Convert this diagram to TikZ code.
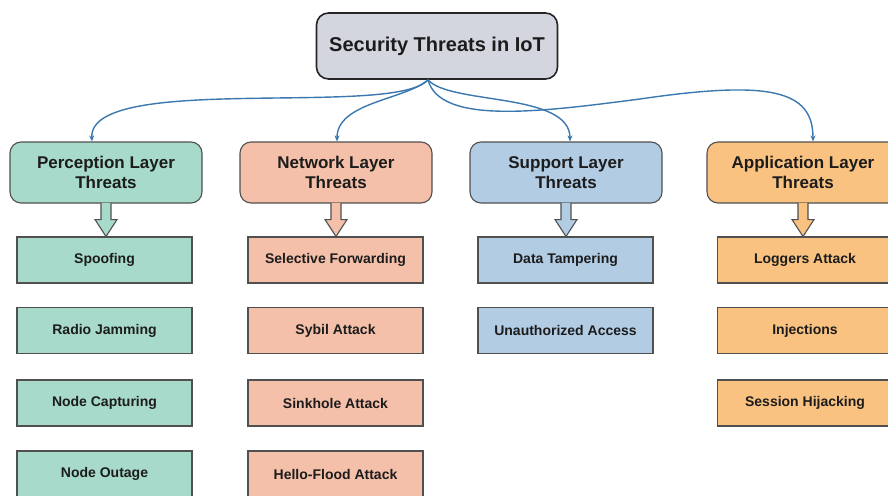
\documentclass[tikz,border=0pt]{standalone}
\usepackage{fontspec}
\setmainfont{Liberation Sans}
\usetikzlibrary{calc,arrows.meta}
\definecolor{topfill}{HTML}{D3D6DF}
\definecolor{percfill}{HTML}{A7DACA}
\definecolor{netfill}{HTML}{F5C0A9}
\definecolor{supfill}{HTML}{B2CCE4}
\definecolor{appfill}{HTML}{F9C280}
\definecolor{linkblue}{HTML}{3A78AF}
\definecolor{edge}{HTML}{505050}
\definecolor{txt}{HTML}{1C1C1C}
\tikzset{
  topbox/.style={draw=black!85, line width=1.6pt, rounded corners=12pt, fill=topfill,
    minimum width=241pt, minimum height=66pt, inner sep=0pt, text=txt,
    font=\bfseries\fontsize{20}{24}\selectfont},
  layerbox/.style={draw=edge, line width=1.1pt, rounded corners=11pt,
    minimum width=192pt, minimum height=61pt, inner sep=0pt, align=center, text=txt,
    font=\bfseries\fontsize{17}{20}\selectfont},
  leafbox/.style={draw=edge, line width=1.1pt, minimum width=175pt, minimum height=46pt,
    inner sep=0pt, text=txt, font=\bfseries\fontsize{14}{17}\selectfont},
  link/.style={draw=linkblue, line width=1.4pt, -{Stealth[length=6pt,width=5pt]}},
  hollow/.style={draw=edge, line width=1.1pt, line join=miter}
}
\newcommand\hollowarr[3]{%
  \filldraw[hollow, fill=#3] ($(#1.south)+(-5,-0.6)$) -- ($(#1.south)+(-5,16)$) -- ($(#1.south)+(-11,16)$)
    -- (#1.south |- #2.north) -- ($(#1.south)+(11,16)$) -- ($(#1.south)+(5,16)$) -- ($(#1.south)+(5,-0.6)$);}
\begin{document}
\begin{tikzpicture}[x=1pt,y=-1pt]
\clip (0,0) rectangle (888,495);
\fill[white] (0,0) rectangle (888,495);

\node[topbox] (top) at (437,46) {Security Threats in IoT};

\node[layerbox, fill=percfill] (perc) at (106,172.5) {Perception Layer\\Threats};
\node[layerbox, fill=netfill]  (net)  at (336,172.5) {Network Layer\\Threats};
\node[layerbox, fill=supfill]  (sup)  at (566,172.5) {Support Layer\\Threats};
\node[layerbox, fill=appfill]  (app)  at (803,172.5) {Application Layer\\Threats};

\node[leafbox, fill=percfill] (p1) at (104.5,260) {Spoofing};
\node[leafbox, fill=percfill] (p2) at (104.5,330.5) {Radio Jamming};
\node[leafbox, fill=percfill] (p3) at (104.5,403) {Node Capturing};
\node[leafbox, fill=percfill] (p4) at (104.5,474) {Node Outage};

\node[leafbox, fill=netfill] (n1) at (335.5,260) {Selective Forwarding};
\node[leafbox, fill=netfill] (n2) at (335.5,330.5) {Sybil Attack};
\node[leafbox, fill=netfill] (n3) at (335.5,403) {Sinkhole Attack};
\node[leafbox, fill=netfill] (n4) at (335.5,474) {Hello-Flood Attack};

\node[leafbox, fill=supfill] (s1) at (565.5,260) {Data Tampering};
\node[leafbox, fill=supfill] (s2) at (565.5,330.5) {Unauthorized Access};

\node[leafbox, fill=appfill] (a1) at (805,260) {Loggers Attack};
\node[leafbox, fill=appfill] (a2) at (805,330.5) {Injections};
\node[leafbox, fill=appfill] (a3) at (805,403) {Session Hijacking};

\hollowarr{perc}{p1}{percfill}
\hollowarr{net}{n1}{netfill}
\hollowarr{sup}{s1}{supfill}
\hollowarr{app}{a1}{appfill}

\coordinate (hub) at ($(top.south)+(-9,0)$);
\coordinate (pin) at ($(perc.north)+(-14,0)$);
\coordinate (nin) at ($(net.north)+(1,0)$);
\coordinate (sin) at ($(sup.north)+(4,0)$);
\coordinate (ain) at ($(app.north)+(10,0)$);

\draw[link] (hub) .. controls (395,118) and (88,72) .. (pin);
\draw[link] (hub) .. controls (405,100) and (337,102) .. (nin);
\draw[link] (hub) .. controls (450,105) and (570,92) .. (sin);
\draw[link] (hub) .. controls (440,125) and (540,112) .. (640,99)
                  .. controls (770,80) and (813,90) .. (ain);
\end{tikzpicture}
\end{document}
